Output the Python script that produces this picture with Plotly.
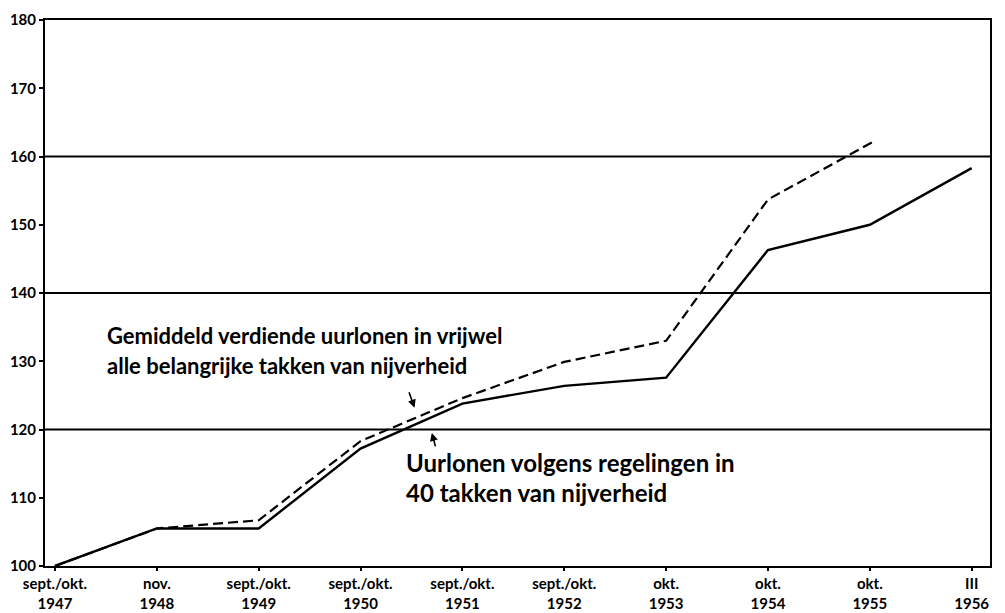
import plotly.graph_objects as go

# Periods on the horizontal axis
periods = ["sept./okt.<br>1947", "nov.<br>1948", "sept./okt.<br>1949", "sept./okt.<br>1950",
           "sept./okt.<br>1951", "sept./okt.<br>1952", "okt.<br>1953", "okt.<br>1954",
           "okt.<br>1955", "III<br>1956"]

# Index numbers (sept./okt. 1947 = 100)
regeling_x = [0, 1, 2, 3, 4, 5, 6, 7, 8, 9]
regeling = [100, 105.5, 105.5, 117.2, 123.8, 126.4, 127.6, 146.3, 150.0, 158.3]

verdiend_x = [0, 1, 2, 3, 4, 5, 6, 7, 8.05]
verdiend = [100, 105.5, 106.7, 118.3, 124.6, 129.9, 133.0, 153.7, 162.3]

y_ticks = [100, 110, 120, 130, 140, 150, 160, 170, 180]
grid_levels = [120, 140, 160]

# Label lines: (text, x, y, font size)
label_verdiend = [("Gemiddeld verdiende uurlonen in vrijwel", 0.49, 133.8, 22),
                  ("alle belangrijke takken van nijverheid", 0.49, 129.4, 22)]
label_regeling = [("Uurlonen volgens regelingen in", 3.43, 115.1, 24),
                  ("40 takken van nijverheid", 3.43, 110.7, 24)]

FONT = "Lato"

fig = go.Figure()

fig.add_trace(go.Scatter(x=verdiend_x, y=verdiend, mode="lines",
                         line=dict(color="black", width=2.2, dash="10px,5px"),
                         showlegend=False))
fig.add_trace(go.Scatter(x=regeling_x, y=regeling, mode="lines",
                         line=dict(color="black", width=2.4),
                         showlegend=False))

for g in grid_levels:
    fig.add_shape(type="line", xref="paper", yref="y", x0=0, x1=1, y0=g, y1=g,
                  line=dict(color="black", width=1.8), layer="below")

for text, x, y, size in label_verdiend + label_regeling:
    fig.add_annotation(x=x, y=y, xref="x", yref="y", xanchor="left", yanchor="middle",
                       text=text, showarrow=False,
                       font=dict(family=FONT, size=size, color="black", weight="bold"))

# Pointers from the labels to their lines
fig.add_annotation(x=3.53, y=123.2, xref="x", yref="y", ax=-6, ay=-17,
                   showarrow=True, arrowhead=2, arrowsize=1, arrowwidth=1.6,
                   arrowcolor="black", text="")
fig.add_annotation(x=3.70, y=119.5, xref="x", yref="y", ax=4, ay=15,
                   showarrow=True, arrowhead=2, arrowsize=1, arrowwidth=1.6,
                   arrowcolor="black", text="")

fig.update_layout(
    width=1005, height=613,
    margin=dict(l=45, r=15, t=20, b=47),
    paper_bgcolor="white", plot_bgcolor="white",
    font=dict(family=FONT, color="black", size=15, weight="bold"),
    xaxis=dict(range=[-0.098, 9.18], tickmode="array", tickvals=list(range(len(periods))),
               ticktext=periods, showgrid=False, zeroline=False, automargin=False,
               showline=True, linecolor="black", linewidth=2, mirror=True,
               ticks="outside", ticklen=3, tickwidth=1.5, tickcolor="black",
               tickfont=dict(family=FONT, size=15, weight="bold")),
    yaxis=dict(range=[100, 180], tickmode="array", tickvals=y_ticks,
               showgrid=False, zeroline=False, automargin=False,
               showline=True, linecolor="black", linewidth=2, mirror=True,
               ticks="outside", ticklen=4, tickwidth=1.5, tickcolor="black",
               tickfont=dict(family=FONT, size=15, weight="bold")),
)

fig.write_html("out.html")
